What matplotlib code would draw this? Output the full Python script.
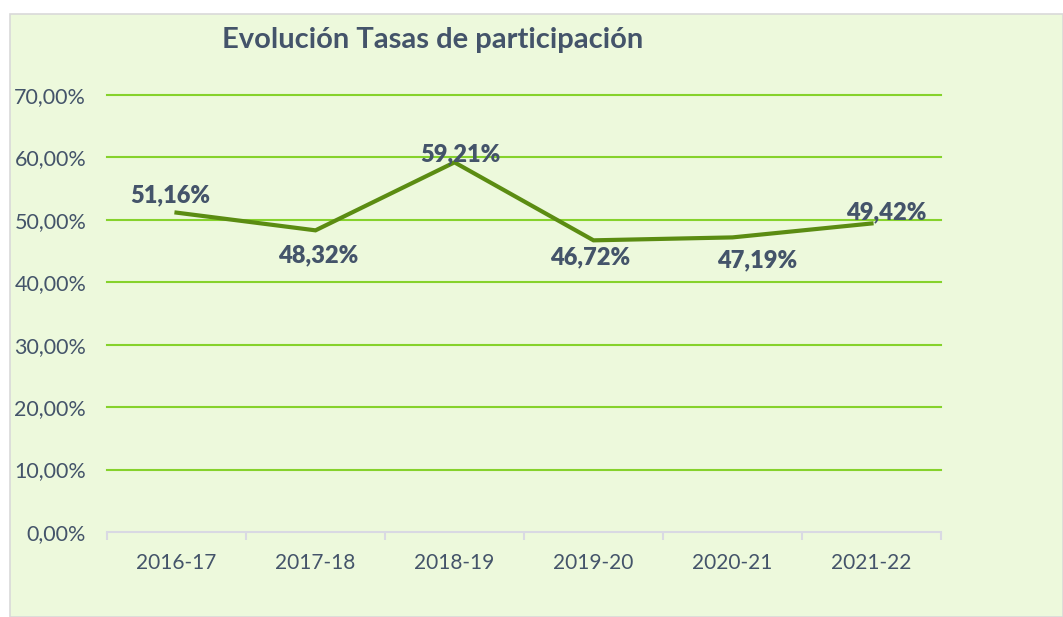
import matplotlib.pyplot as plt
from matplotlib.patches import Rectangle
from matplotlib.ticker import FuncFormatter

plt.rcParams['font.family'] = ['Lato', 'DejaVu Sans']

years = ['2016-17', '2017-18', '2018-19', '2019-20', '2020-21', '2021-22']
rates = [51.16, 48.32, 59.21, 46.72, 47.19, 49.42]
labels = ['51,16%', '48,32%', '59,21%', '46,72%', '47,19%', '49,42%']
yticks = [0, 10, 20, 30, 40, 50, 60, 70]

# label offsets in pixels (manual placement like the original)
offsets = [(-6, 17), (3, -25), (6, 8), (-3, -17), (25, -23), (15, 11)]

text_col = '#44546A'
bg = '#EDF9DC'

fig = plt.figure(figsize=(10.63, 6.17), dpi=100)
fig.patch.set_facecolor('white')
fig.patches.append(Rectangle((10 / 1063, 0), 1 - 10 / 1063, 1 - 14 / 617,
                             transform=fig.transFigure, facecolor=bg,
                             edgecolor='#D9D9D9', linewidth=1.2, zorder=-10))

ax = fig.add_axes([107 / 1063, 1 - 532 / 617, 834 / 1063, (532 - 95) / 617])
ax.set_facecolor('none')

x = list(range(len(years)))
ax.plot(x, rates, color='#5B8C12', linewidth=3, solid_joinstyle='miter', zorder=3)

for xi, v, lab, (dx, dy) in zip(x, rates, labels, offsets):
    ax.annotate(lab, (xi, v), xytext=(dx, dy), textcoords='offset pixels',
                ha='center', va='center', fontsize=17, fontweight='heavy',
                color=text_col, zorder=4)

ax.set_xlim(-0.5, 5.5)
ax.set_ylim(0, 70)
ax.set_yticks(yticks)
ax.yaxis.set_major_formatter(FuncFormatter(lambda v, p: f'{v:.2f}'.replace('.', ',') + '%'))
ax.set_xticks(x)
ax.set_xticklabels(years)

for t in yticks[1:]:
    ax.axhline(t, color='#86D22C', linewidth=1.5, zorder=1, clip_on=False)

for s in ['top', 'right', 'left']:
    ax.spines[s].set_visible(False)
ax.spines['bottom'].set_color('#D9D9E3')
ax.spines['bottom'].set_linewidth(1.5)

# category boundary tick marks
ax.set_xticks([i - 0.5 for i in range(len(years) + 1)], minor=True)
ax.tick_params(axis='x', which='minor', length=6, color='#D9D9E3', width=1.5)
ax.tick_params(axis='x', which='major', length=0, pad=15, labelsize=15, labelcolor=text_col)
ax.tick_params(axis='y', length=0, pad=15, labelsize=15.5, labelcolor=text_col)

fig.text(433 / 1063, 1 - 40 / 617, 'Evolución Tasas de participación',
         ha='center', va='center', fontsize=21, fontweight='bold', color=text_col)

plt.savefig('out.png', dpi=100, facecolor=fig.get_facecolor())
